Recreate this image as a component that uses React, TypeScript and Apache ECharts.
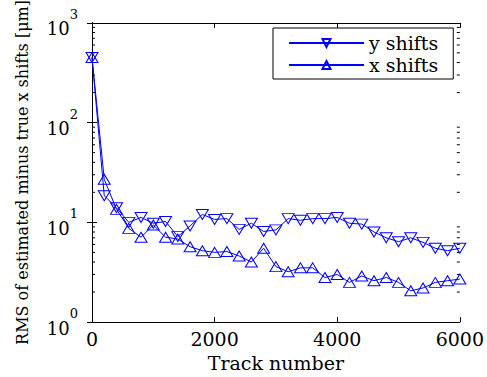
import React, { useEffect, useRef } from "react";
import * as echarts from "echarts";

const trackNumbers = [0, 200, 400, 600, 800, 1000, 1200, 1400, 1600, 1800, 2000, 2200, 2400, 2600, 2800, 3000, 3200, 3400, 3600, 3800, 4000, 4200, 4400, 4600, 4800, 5000, 5200, 5400, 5600, 5800, 6000];
const yShifts = [450, 18.5, 14, 10, 11.2, 9.8, 10.2, 7.2, 9.2, 12, 10.7, 10.9, 8.5, 9.8, 8.1, 8.4, 10.9, 10.5, 10.9, 10.9, 11.2, 9.8, 9.6, 8.0, 7.0, 6.4, 7.0, 6.3, 5.5, 5.2, 5.5];
const xShifts = [450, 27, 13.5, 8.7, 7.1, 9.4, 7.1, 6.8, 5.7, 5.2, 5.0, 5.1, 4.6, 4.0, 5.5, 3.6, 3.2, 3.5, 3.5, 2.8, 3.0, 2.5, 2.9, 2.6, 2.8, 2.5, 2.06, 2.2, 2.5, 2.6, 2.7];
const seriesNames = ["y shifts", "x shifts"];
const minorLogTicks = [2, 3, 4, 5, 6, 7, 8, 9, 20, 30, 40, 50, 60, 70, 80, 90, 200, 300, 400, 500, 600, 700, 800, 900];

const FONT = "DejaVu Serif";
const BLUE = "#0000ff";

export default function App() {
  const ref = useRef<HTMLDivElement>(null);
  useEffect(() => {
    const chart = echarts.init(ref.current!, null, { renderer: "svg" });
    const mk = (name: string, vals: number[], rot: number) => ({
      name,
      type: "line",
      data: trackNumbers.map((t, i) => [t, vals[i]]),
      symbol: "triangle",
      symbolSize: [12, 10],
      symbolRotate: rot,
      showAllSymbol: true,
      lineStyle: { color: BLUE, width: 1 },
      itemStyle: { color: "rgba(255,255,255,0)", borderColor: BLUE, borderWidth: 1 },
      emphasis: { disabled: true },
      z: 3,
    });
    const tickStyle = { show: true, inside: true, length: 5, lineStyle: { color: "#000", width: 1 } };
    const lineStyle = { show: true, lineStyle: { color: "#000", width: 1 } };
    chart.setOption({
      animation: false,
      backgroundColor: "#fff",
      textStyle: { fontFamily: FONT },
      grid: { left: 92, right: 24, top: 22, bottom: 49, containLabel: false },
      legend: {
        data: seriesNames,
        orient: "vertical",
        left: 273,
        top: 28,
        itemWidth: 75,
        itemHeight: 10,
        itemGap: 2,
        padding: [5, 15, 4, 15],
        borderColor: "#000",
        borderWidth: 1,
        backgroundColor: "#fff",
        textStyle: { fontFamily: FONT, fontSize: 19, color: "#000", lineHeight: 20 },
      },
      xAxis: [
        {
          type: "value",
          min: 0,
          max: 6000,
          interval: 2000,
          position: "bottom",
          axisLine: lineStyle,
          axisTick: tickStyle,
          splitLine: { show: false },
          axisLabel: { fontFamily: FONT, fontSize: 19, color: "#000", margin: 7, formatter: (v: number) => String(v) },
          name: "Track number",
          nameLocation: "middle",
          nameGap: 24,
          nameTextStyle: { fontFamily: FONT, fontSize: 19, color: "#000" },
        },
        {
          type: "value",
          min: 0,
          max: 6000,
          interval: 2000,
          position: "top",
          axisLine: lineStyle,
          axisTick: tickStyle,
          splitLine: { show: false },
          axisLabel: { show: false },
        },
      ],
      yAxis: [
        {
          type: "log",
          logBase: 10,
          min: 1,
          max: 1000,
          position: "left",
          axisLine: lineStyle,
          axisTick: tickStyle,
          splitLine: { show: false },
          axisLabel: {
            margin: 14,
            fontFamily: FONT,
            formatter: (v: number) => `{b|10}{s|${Math.round(Math.log10(v))}}`,
            rich: {
              b: { fontFamily: FONT, fontSize: 18, color: "#000", lineHeight: 30, verticalAlign: "bottom" },
              s: { fontFamily: FONT, fontSize: 13, color: "#000", verticalAlign: "top" },
            },
          },
          name: "RMS of estimated minus true x shifts [μm]",
          nameLocation: "middle",
          nameGap: 62,
          nameTextStyle: { fontFamily: FONT, fontSize: 16, color: "#000" },
        },
        {
          type: "log",
          logBase: 10,
          min: 1,
          max: 1000,
          position: "right",
          axisLine: lineStyle,
          axisTick: tickStyle,
          splitLine: { show: false },
          axisLabel: { show: false },
        },
      ],
      series: [
        mk(seriesNames[0], yShifts, 180),
        mk(seriesNames[1], xShifts, 0),
        {
          type: "custom",
          name: "minorTicks",
          silent: true,
          xAxisIndex: 0,
          yAxisIndex: 0,
          clip: false,
          data: minorLogTicks.map((v) => [0, v]),
          encode: { x: 0, y: 1 },
          renderItem: (params: any, api: any) => {
            const p = api.coord([0, api.value(1)]);
            const cs = params.coordSys;
            return {
              type: "group",
              children: [
                { type: "line", shape: { x1: cs.x, y1: p[1], x2: cs.x + 3, y2: p[1] }, style: { stroke: "#000", lineWidth: 1 } },
                { type: "line", shape: { x1: cs.x + cs.width, y1: p[1], x2: cs.x + cs.width - 3, y2: p[1] }, style: { stroke: "#000", lineWidth: 1 } },
              ],
            };
          },
          z: 1,
        },
      ],
    });
    return () => chart.dispose();
  }, []);
  return <div ref={ref} style={{ position: "fixed", left: 0, top: 0, width: 487, height: 377 }} />;
}
